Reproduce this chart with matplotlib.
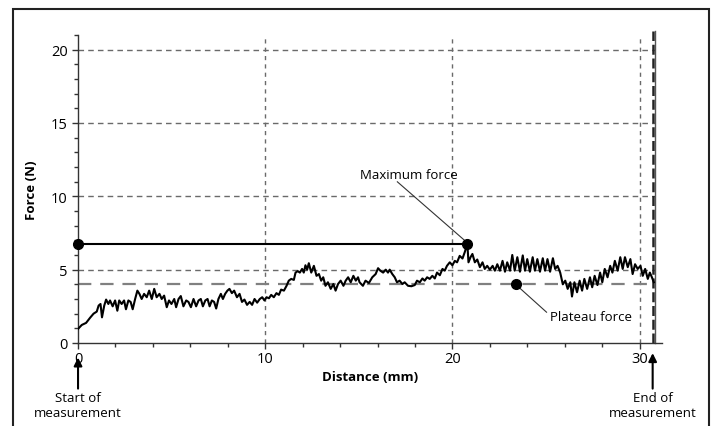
import numpy as np
import matplotlib
matplotlib.use('Agg')
import matplotlib.pyplot as plt
from matplotlib.patches import Rectangle
from matplotlib.ticker import MultipleLocator

plt.rcParams['font.family'] = ['Open Sans', 'DejaVu Sans']

# force-distance curve
dist = [0.0, 0.2, 0.43, 0.65, 0.83, 1.0, 1.1, 1.2, 1.28, 1.4, 1.5, 1.62, 1.71, 1.85, 1.98,
        2.1, 2.2, 2.33, 2.46, 2.56, 2.69, 2.81, 2.92, 3.05, 3.17, 3.28, 3.4, 3.53, 3.67, 3.8,
        3.94, 4.07, 4.2, 4.35, 4.47, 4.6, 4.74, 4.86, 4.99, 5.14, 5.24, 5.37, 5.49, 5.63, 5.78,
        5.9, 6.03, 6.17, 6.31, 6.44, 6.56, 6.67, 6.8, 6.92, 7.03, 7.15, 7.27, 7.38, 7.5, 7.63,
        7.74, 7.86, 7.98, 8.09, 8.22, 8.34, 8.49, 8.63, 8.76, 8.89, 9.03, 9.17, 9.3, 9.43, 9.57,
        9.71, 9.84, 9.96, 10.07, 10.2, 10.32, 10.46, 10.6, 10.73, 10.85, 11.0, 11.14, 11.26,
        11.39, 11.53, 11.62, 11.74, 11.85, 11.97, 12.06, 12.15, 12.24, 12.33, 12.46, 12.6,
        12.74, 12.87, 12.99, 13.1, 13.22, 13.35, 13.5, 13.64, 13.76, 13.89, 14.03, 14.18, 14.3,
        14.43, 14.57, 14.71, 14.84, 14.96, 15.04, 15.22, 15.36, 15.54, 15.72, 15.9, 16.03,
        16.15, 16.3, 16.44, 16.56, 16.65, 16.79, 16.92, 17.04, 17.18, 17.33, 17.45, 17.63,
        17.81, 17.99, 18.11, 18.26, 18.4, 18.52, 18.65, 18.79, 18.93, 19.06, 19.18, 19.33,
        19.47, 19.59, 19.71, 19.86, 20.0, 20.13, 20.25, 20.39, 20.54, 20.66, 20.8, 20.86,
        20.97, 21.07, 21.2, 21.33, 21.47, 21.61, 21.73, 21.86, 22.0, 22.15, 22.27, 22.4, 22.54,
        22.68, 22.81, 22.93, 23.08, 23.2, 23.33, 23.47, 23.61, 23.76, 23.88, 24.0, 24.14,
        24.29, 24.41, 24.54, 24.68, 24.83, 24.95, 25.08, 25.22, 25.37, 25.49, 25.62, 25.76,
        25.9, 26.03, 26.16, 26.3, 26.39, 26.52, 26.66, 26.8, 26.93, 27.05, 27.2, 27.35, 27.47,
        27.6, 27.75, 27.89, 28.01, 28.14, 28.29, 28.43, 28.55, 28.68, 28.83, 28.97, 29.1,
        29.22, 29.37, 29.51, 29.63, 29.76, 29.9, 30.05, 30.17, 30.3, 30.44, 30.55, 30.66, 30.76]
force = [0.96, 1.23, 1.37, 1.73, 2.0, 2.14, 2.55, 2.66, 1.75, 2.55, 2.96, 2.66, 2.9, 2.5, 2.9,
         2.2, 2.9, 2.66, 2.9, 2.3, 2.9, 2.8, 2.3, 3.0, 3.57, 3.35, 3.0, 3.35, 3.12, 3.57,
         3.0, 3.69, 3.12, 3.35, 3.0, 3.23, 2.44, 2.9, 2.66, 3.0, 2.44, 3.0, 3.2, 2.5, 2.9,
         2.8, 2.44, 3.0, 2.5, 2.9, 3.0, 2.5, 2.9, 3.0, 2.5, 2.9, 2.8, 2.35, 3.0, 3.35,
         3.0, 3.35, 3.57, 3.69, 3.4, 3.57, 3.12, 3.35, 2.8, 2.96, 2.6, 2.8, 2.6, 3.0, 2.75,
         3.0, 3.12, 2.9, 3.12, 3.05, 3.28, 3.12, 3.4, 3.28, 3.64, 3.57, 3.9, 4.25,
         4.37, 4.3, 4.8, 4.9, 4.8, 5.05, 4.8, 5.3, 5.0, 5.44, 4.8, 5.26,
         4.58, 4.7, 4.25, 4.48, 3.9, 4.14, 3.69, 4.02, 3.57, 4.02, 4.25, 3.9, 4.25,
         4.48, 4.14, 4.58, 4.25, 4.48, 4.14, 3.9, 4.25, 4.09, 4.48, 4.7, 5.1,
         4.93, 4.8, 5.0, 4.8, 5.0, 4.7, 4.48, 4.14, 4.25, 4.02, 4.14, 3.9,
         3.87, 3.95, 4.25, 4.14, 4.4, 4.25, 4.48, 4.37, 4.58, 4.4, 4.8, 4.62,
         5.05, 4.93, 5.26, 5.5, 5.3, 5.6, 5.5, 5.94, 5.76, 6.19, 6.75, 5.5,
         5.85, 6.07, 5.5, 5.69, 5.17, 5.5, 5.05, 5.26, 5.0, 5.26, 4.93, 5.37, 4.93,
         5.6, 4.86, 5.5, 4.93, 6.0, 4.93, 5.85, 4.86, 5.97, 4.93, 5.72, 4.86,
         5.85, 4.93, 5.72, 4.86, 5.78, 4.93, 5.72, 4.86, 5.78, 5.05, 5.26, 4.8,
         4.0, 4.25, 3.69, 4.14, 3.17, 4.14, 3.46, 4.25, 3.57, 4.37, 3.69, 4.48, 3.8,
         4.58, 3.95, 4.8, 4.14, 5.05, 4.48, 5.26, 4.8, 5.6, 4.93, 5.85, 5.05,
         5.85, 5.17, 5.72, 4.7, 5.37, 5.05, 5.26, 4.58, 5.05, 4.37, 4.8, 4.48, 4.14]

max_x, max_y = 20.8, 6.75
plateau_x, plateau_y = 23.4, 4.0
end_x = 30.7
xticks_major = [0, 10, 20, 30]
yticks_major = [0, 5, 10, 15, 20]

fig = plt.figure(figsize=(7.12, 4.27), dpi=100)
ax = fig.add_axes([0.1096, 0.1944, 0.8202, 0.7213])

gc = '#6a6a6a'
for xv in [10, 20, 30]:
    ax.plot([xv, xv], [0, 21], color=gc, lw=1, ls=(0, (3, 3)), zorder=1)
for yv in [5, 10, 15, 20]:
    ax.plot([0, 30.85], [yv, yv], color=gc, lw=1, ls=(0, (4, 3)), zorder=1)
# plateau line
ax.plot([0, 30.85], [plateau_y, plateau_y], color='#808080', lw=1.6, ls=(0, (6, 4)), zorder=1)
# end of measurement lines
ax.plot([end_x, end_x], [0, 21.3], color='#222222', lw=1.8, ls=(0, (4, 1.5)), clip_on=False, zorder=2)
ax.plot([end_x + 0.15, end_x + 0.15], [0, 21.3], color='#555555', lw=1, clip_on=False, zorder=2)

ax.plot(dist, force, color='black', lw=1.5, zorder=3)

# maximum force line and dots
ax.plot([0, max_x], [max_y, max_y], color='black', lw=1.5, zorder=3)
ax.plot([0, max_x], [max_y, max_y], 'o', color='black', ms=7, clip_on=False, zorder=4)
ax.plot([plateau_x], [plateau_y], 'o', color='black', ms=7, zorder=4)

ax.plot([17.06, max_x - 0.15], [10.99, max_y + 0.25], color='#333333', lw=0.8)
ax.text(17.65, 11.47, 'Maximum force', ha='center', va='center', fontsize=9.5)
ax.plot([plateau_x + 0.15, 25.03], [plateau_y - 0.2, 2.1], color='#333333', lw=0.8)
ax.text(25.2, 1.84, 'Plateau force', ha='left', va='center', fontsize=9.5)

ax.set_xlim(0, 31.2)
ax.set_ylim(0, 21)
ax.set_xticks(xticks_major)
ax.set_yticks(yticks_major)
ax.xaxis.set_minor_locator(MultipleLocator(2))
ax.yaxis.set_minor_locator(MultipleLocator(1))
ax.tick_params(which='both', direction='out', length=4, width=1, labelsize=10.5, color='#333333')
ax.tick_params(which='minor', length=3)
ax.tick_params(axis='x', pad=2)
for s in ['top', 'right']:
    ax.spines[s].set_visible(False)
for s in ['left', 'bottom']:
    ax.spines[s].set_color('#333333')
    ax.spines[s].set_linewidth(1)

ax.set_xlabel('Distance (mm)', fontsize=9.5, fontweight='bold', labelpad=3)
ax.set_ylabel('Force (N)', fontsize=9.5, fontweight='bold', labelpad=9)

# start / end annotations
ax.annotate('', xy=(0, -0.8), xytext=(0, -3.3), xycoords='data', annotation_clip=False,
            arrowprops=dict(arrowstyle='-|>', color='black', lw=1.5, mutation_scale=12))
ax.text(0, -4.25, 'Start of\nmeasurement', ha='center', va='center', fontsize=9.5,
        linespacing=1.2, clip_on=False)
ax.annotate('', xy=(end_x, -0.5), xytext=(end_x, -3.3), xycoords='data', annotation_clip=False,
            arrowprops=dict(arrowstyle='-|>', color='black', lw=1.5, mutation_scale=12))
ax.text(end_x, -4.25, 'End of\nmeasurement', ha='center', va='center', fontsize=9.5,
        linespacing=1.2, clip_on=False)

# outer frame, cut at the bottom
fig.patches.append(Rectangle((0.0183, -0.05), 0.9775, 1.0266, transform=fig.transFigure,
                             fill=False, edgecolor='#222222', lw=1.5))

fig.savefig('out.png', dpi=100)
